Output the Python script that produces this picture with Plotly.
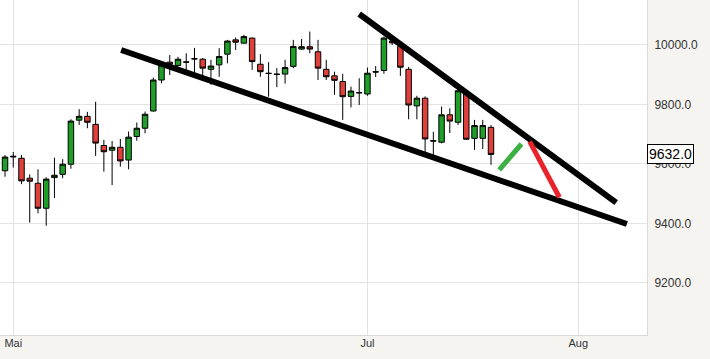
import plotly.graph_objects as go

# trading-day index of each candle (0 = last day of April)
day_index = list(range(60))
open_ = [9577, 9626, 9619, 9552, 9535, 9451, 9554, 9565, 9599, 9747,
         9760, 9733, 9662, 9646, 9656, 9613, 9692, 9720, 9778, 9882,
         9942, 9931, 9943, 9954, 9952, 9918, 9933, 9969, 10017, 10006,
         10023, 9935, 9905, 9902, 9902, 9928, 9986, 9994, 9977, 9918,
         9896, 9877, 9827, 9840, 9835, 9910, 9914, 10013, 9995, 9918,
         9795, 9821, 9678, 9673, 9765, 9740, 9840, 9686, 9686, 9723]
high = [9630, 9640, 9630, 9565, 9582, 9555, 9621, 9616, 9750, 9784,
        9775, 9809, 9681, 9677, 9684, 9709, 9739, 9776, 9890, 9944,
        9966, 9960, 9972, 9990, 9956, 9950, 9989, 10017, 10025, 10034,
        10025, 9969, 9942, 9922, 9950, 10017, 10020, 10045, 10017, 9950,
        9910, 9903, 9860, 9888, 9924, 9929, 10028, 10023, 10006, 9926,
        9829, 9827, 9708, 9793, 9787, 9851, 9849, 9748, 9748, 9731]
low = [9557, 9588, 9532, 9403, 9434, 9392, 9485, 9552, 9584, 9731,
       9720, 9627, 9574, 9529, 9591, 9582, 9678, 9703, 9776, 9871,
       9899, 9927, 9905, 9903, 9897, 9866, 9893, 9938, 9983, 10005,
       9916, 9893, 9826, 9858, 9870, 9922, 9983, 9972, 9882, 9882,
       9832, 9748, 9790, 9798, 9829, 9892, 9903, 10000, 9896, 9750,
       9750, 9624, 9630, 9669, 9704, 9731, 9681, 9647, 9650, 9597]
close = [9623, 9624, 9543, 9542, 9451, 9549, 9562, 9599, 9744, 9760,
         9740, 9670, 9641, 9656, 9610, 9690, 9720, 9767, 9882, 9933,
         9935, 9952, 9942, 9953, 9922, 9929, 9961, 10013, 10009, 10028,
         9944, 9910, 9904, 9901, 9924, 9995, 9994, 9986, 9922, 9893,
         9881, 9826, 9845, 9839, 9905, 9909, 10023, 10007, 9925, 9798,
         9821, 9684, 9677, 9765, 9744, 9846, 9683, 9729, 9729, 9632]

tick_positions = [1, 44, 69.6]
tick_labels = ["Mai", "Jul", "Aug"]
price_ticks = [9200, 9400, 9600, 9800, 10000]
last_price = 9632.0

# hand-drawn trend lines: (x0, y0, x1, y1) in day index / price
lower_trend = (14.1, 9983, 75.5, 9398)
upper_trend = (43.0, 10104, 74.2, 9470)
green_stroke = (60.0, 9580, 62.7, 9667)
red_stroke = (63.7, 9675, 67.3, 9488)

GREEN = "#1f9e2a"
RED = "#e0403c"

fig = go.Figure()
fig.add_trace(go.Candlestick(
    x=day_index, open=open_, high=high, low=low, close=close,
    increasing=dict(fillcolor=GREEN, line=dict(color="black", width=1)),
    decreasing=dict(fillcolor=RED, line=dict(color="black", width=1)),
    whiskerwidth=0, showlegend=False, hoverinfo="skip",
))

for (x0, y0, x1, y1), col, w in [
    (lower_trend, "black", 6), (upper_trend, "black", 6),
    (green_stroke, "#3cb043", 5), (red_stroke, "#e8242a", 5)]:
    fig.add_shape(type="line", xref="x", yref="y", x0=x0, y0=y0, x1=x1, y1=y1,
                  line=dict(color=col, width=w), layer="above")

fig.add_annotation(xref="paper", yref="y", x=1, y=last_price, xanchor="left",
                   yanchor="middle", text=f"{last_price:.1f}", showarrow=False,
                   font=dict(family="Liberation Sans, Arial", size=14, color="black"),
                   bgcolor="white", bordercolor="black", borderwidth=1,
                   borderpad=1, xshift=0)

fig.update_layout(
    width=710, height=359,
    margin=dict(l=0, r=63, t=0, b=24),
    boxgap=0.05,
    paper_bgcolor="#f5f4f1", plot_bgcolor="white",
    font=dict(family="Liberation Sans, Arial", size=11, color="#333333"),
    xaxis=dict(range=[-0.61, 77.94], tickvals=tick_positions, ticktext=tick_labels,
               showgrid=True, gridcolor="#e3e3e3", gridwidth=1, zeroline=False,
               rangeslider=dict(visible=False), ticks="", showline=True,
               linecolor="#d9d9d9", linewidth=1, ticklabelstandoff=-2),
    yaxis=dict(range=[9025, 10151], side="right", tickvals=price_ticks,
               tickformat=".1f", showgrid=True, gridcolor="#e3e3e3", gridwidth=1,
               zeroline=False, ticks="", showline=True, linecolor="#d9d9d9",
               linewidth=1, tickfont=dict(size=12), ticklabelstandoff=4),
)

fig.write_html("out.html")
